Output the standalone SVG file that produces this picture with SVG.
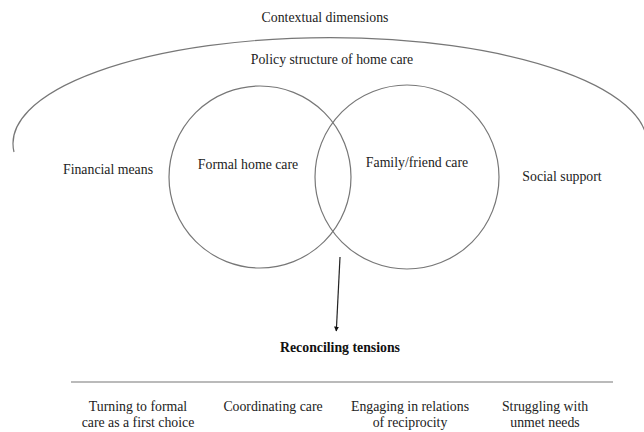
<svg xmlns="http://www.w3.org/2000/svg" width="644" height="432" viewBox="0 0 644 432" font-family="'Liberation Serif', 'Times New Roman', serif">
<defs>
<marker id="arrow" viewBox="0 0 10 10" refX="9" refY="5" markerWidth="5" markerHeight="6" markerUnits="userSpaceOnUse" orient="auto">
<path d="M0,0 L10,5 L0,10 Z" fill="#111"/>
</marker>
<style>
text{font-family:"Liberation Serif","Times New Roman",serif;font-size:13.8px;fill:#222;text-anchor:middle}
.b{font-weight:bold;fill:#111}
.shape{fill:none;stroke:#777;stroke-width:1.2}
.conn{fill:none;stroke:#222;stroke-width:1.2}
</style>
</defs>
<rect width="644" height="432" fill="#fff"/>
<g id="context">
<text x="325" y="22">Contextual dimensions</text>
<path class="shape" d="M14,152 A317 106 0 1 1 646,152"/>
<text x="332" y="64">Policy structure of home care</text>
</g>
<g id="financial"><text x="108" y="174">Financial means</text></g>
<g id="social"><text x="562" y="181">Social support</text></g>
<g id="formal">
<circle class="shape" cx="260" cy="177" r="91"/>
<text x="248" y="169">Formal home care</text>
</g>
<g id="family">
<circle class="shape" cx="407" cy="177" r="92"/>
<text x="417" y="167">Family/friend care</text>
</g>
<g id="connectors">
<line class="conn" x1="340" y1="257" x2="336.3" y2="331" marker-end="url(#arrow)"/>
</g>
<g id="reconciling">
<text class="b" x="340" y="352">Reconciling tensions</text>
<line class="shape" x1="71" y1="382" x2="613" y2="382"/>
</g>
<g id="turning"><text x="138" y="411">Turning to formal</text><text x="138" y="427">care as a first choice</text></g>
<g id="coordinating"><text x="273" y="411">Coordinating care</text></g>
<g id="engaging"><text x="410" y="411">Engaging in relations</text><text x="410" y="427">of reciprocity</text></g>
<g id="struggling"><text x="545" y="411">Struggling with</text><text x="545" y="427">unmet needs</text></g>
</svg>
